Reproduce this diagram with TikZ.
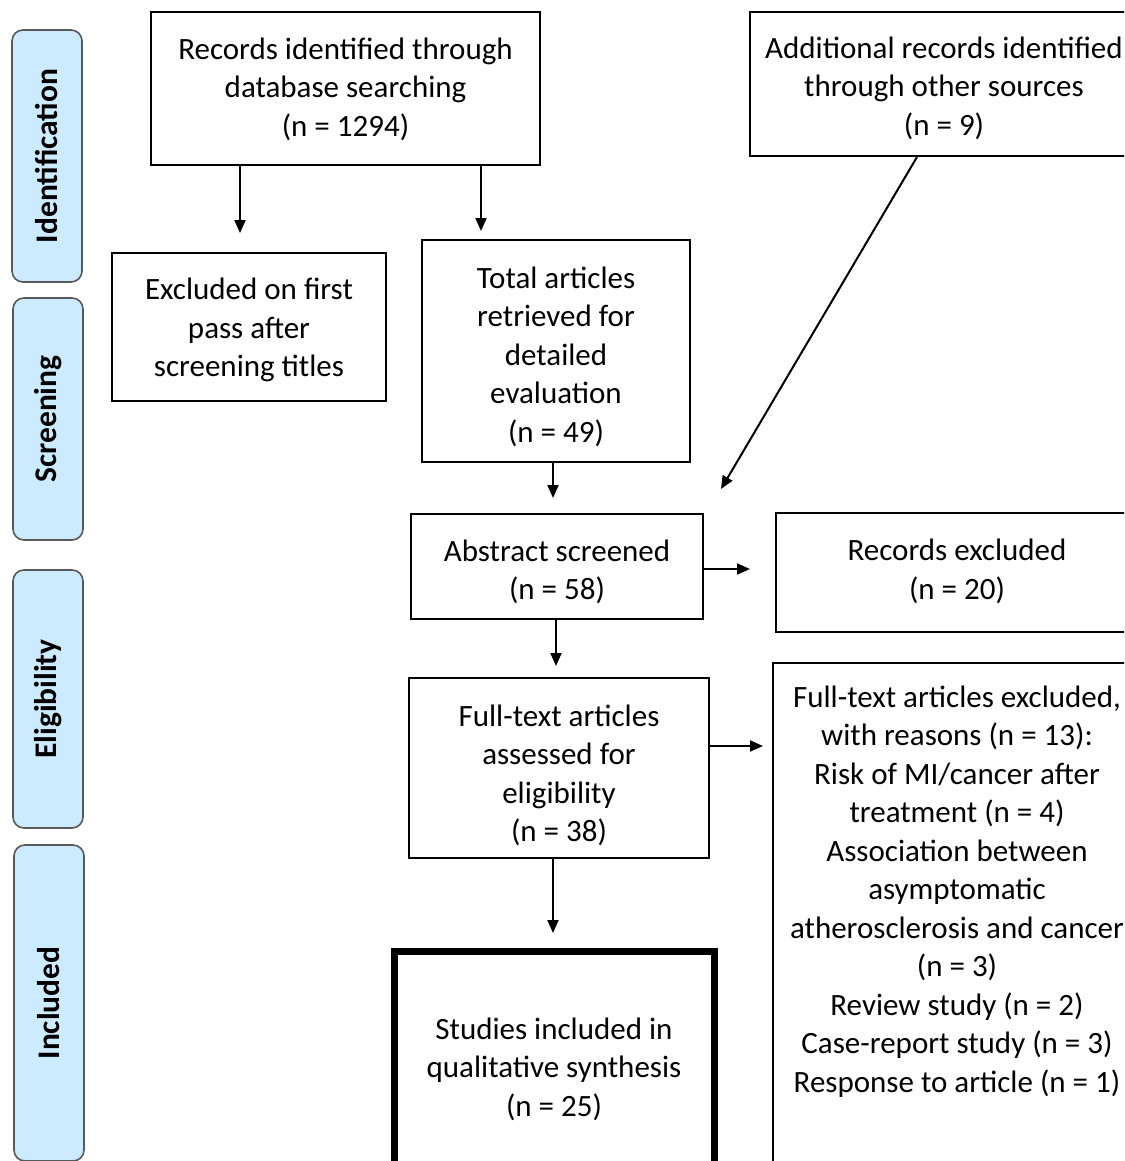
\documentclass[tikz,border=0pt]{standalone}
\usepackage{fontspec}
\setmainfont{Carlito}
\usetikzlibrary{arrows.meta}
\definecolor{phaseblue}{HTML}{CCEBFF}
\begin{document}
\begin{tikzpicture}[x=1pt,y=-1pt,
  box/.style={draw=black, line width=2pt, fill=white, inner sep=0pt},
  boldbox/.style={box, line width=7pt},
  txt/.style={inner sep=0pt, align=center, font=\fontsize{31}{38.5}\selectfont},
  arr/.style={-{Triangle[width=11pt,length=13pt]}, line width=2pt},
  phase/.style={draw=black!65, line width=1.6pt, fill=phaseblue, rounded corners=11pt,
                inner sep=0pt, rotate=90, minimum height=70,
                font=\bfseries\fontsize{31.5}{36}\selectfont}]
\useasboundingbox (0,0) rectangle (1124,1161);
\clip (0,0) rectangle (1124,1161);
\fill[white] (0,0) rectangle (1124,1161);

% phase bars
\node[phase, minimum width=252] (p1) at (47,156) {Identification};
\node[phase, minimum width=242] (p2) at (48,419) {Screening};
\node[phase, minimum width=258] (p3) at (48,699) {Eligibility};
\node[phase, minimum width=316] (p4) at (49,1003) {Included};

% boxes
\node[box, minimum width=389, minimum height=153] (A) at (345.5,88.5) {};
\node[txt] (At) at (345.5,89) {Records identified through\\database searching\\(n = 1294)};
\node[box, minimum width=388, minimum height=144] (B) at (944,84) {};
\node[txt] (Bt) at (944,88) {Additional records identified\\through other sources\\(n = 9)};
\node[box, minimum width=274, minimum height=148] (C) at (249,327) {};
\node[txt] (Ct) at (249,330) {Excluded on first\\pass after\\screening titles};
\node[box, minimum width=268, minimum height=222] (D) at (556,351) {};
\node[txt] (Dt) at (556,356.5) {Total articles\\retrieved for\\detailed\\evaluation\\(n = 49)};
\node[box, minimum width=292, minimum height=105] (E) at (557,566) {};
\node[txt] (Et) at (557,572) {Abstract screened\\(n = 58)};
\node[box, minimum width=362, minimum height=119] (F) at (957,572.5) {};
\node[txt] (Ft) at (957,571.5) {Records excluded\\(n = 20)};
\node[box, minimum width=300, minimum height=180] (G) at (559,768) {};
\node[txt] (Gt) at (559,775.5) {Full-text articles\\assessed for\\eligibility\\(n = 38)};
\node[box, minimum width=368, minimum height=560, anchor=north] (H) at (957,662) {};
\node[txt] (Ht) at (957,891.5)
  {Full-text articles excluded,\\with reasons (n = 13):\\Risk of MI/cancer after\\treatment (n = 4)\\Association between\\asymptomatic\\atherosclerosis and cancer\\(n = 3)\\Review study (n = 2)\\Case-report study (n = 3)\\Response to article (n = 1)};
\node[boldbox, minimum width=320, minimum height=234] (I) at (554,1068) {};
\node[txt] (It) at (554,1069) {Studies included in\\qualitative synthesis\\(n = 25)};

% arrows
\coordinate (tAC) at (240,233);
\coordinate (tAD) at (481,231);
\coordinate (tDE) at (553,498);
\coordinate (sBE) at (917,156);
\coordinate (tBE) at (721,489);
\coordinate (tEF) at (750,569);
\coordinate (tEG) at (556,666);
\coordinate (tGH) at (763,746);
\coordinate (tGI) at (553,933);
\draw[arr] (A.south -| tAC) -- (tAC);
\draw[arr] (A.south -| tAD) -- (tAD);
\draw[arr] (D.south -| tDE) -- (tDE);
\draw[arr] (B.south -| sBE) -- (tBE);
\draw[arr] (E.east |- tEF) -- (tEF);
\draw[arr] (E.south -| tEG) -- (tEG);
\draw[arr] (G.east |- tGH) -- (tGH);
\draw[arr] (G.south -| tGI) -- (tGI);
\end{tikzpicture}
\end{document}
